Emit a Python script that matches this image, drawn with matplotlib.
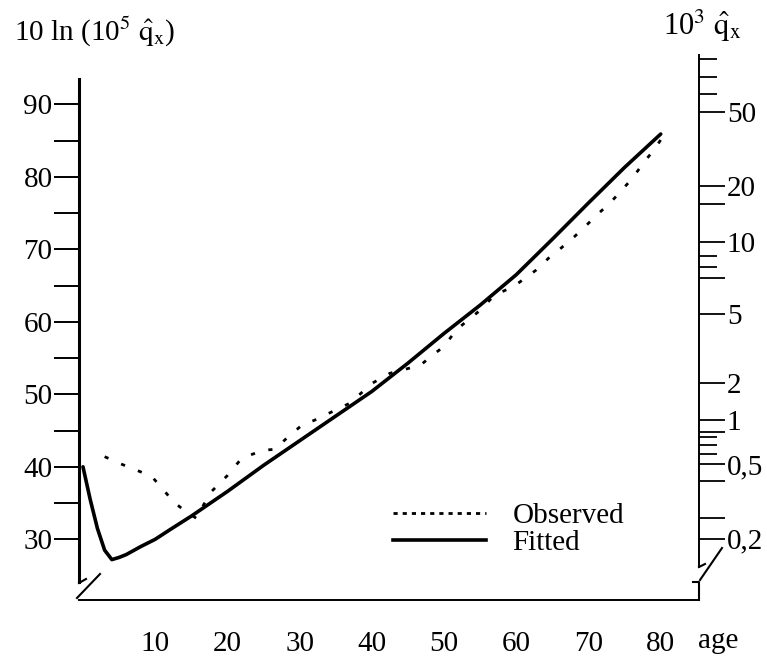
import numpy as np
import matplotlib
matplotlib.use("Agg")
import matplotlib.pyplot as plt
from matplotlib.lines import Line2D

plt.rcParams['font.family'] = ['Liberation Serif', 'DejaVu Serif']
plt.rcParams['mathtext.fontset'] = 'stix'

# datos
age_fit = [0, 1, 2, 3, 4, 5, 6, 8, 10, 12, 15, 20, 25, 30, 35, 40, 45, 50, 55, 60, 65, 70, 75, 80]
fitted = [40.0, 35.5, 31.5, 28.5, 27.2, 27.5, 27.9, 29.0, 30.0, 31.3, 33.2, 36.6, 40.2, 43.6,
          47.0, 50.4, 54.3, 58.4, 62.3, 66.5, 71.4, 76.4, 81.3, 85.9]

age_obs = [3, 5, 7, 9.5, 11.5, 12.5, 14, 15.7, 17.6, 20, 22, 25, 26.5, 28.5, 30.5, 32, 34.5, 37,
           40, 42.5, 46.7, 48.8, 50, 51.7, 55, 57, 59.5, 60.5, 62.7, 64.7, 66, 68, 70, 71, 73,
           75, 76, 77.6, 79.2, 80]
observed = [41.4, 40.5, 39.7, 38.7, 36.4, 35.2, 34.0, 32.9, 36.4, 38.8, 41.2, 42.3, 42.4, 44.2,
            45.9, 46.4, 47.6, 48.8, 51.5, 52.9, 54.0, 55.7, 56.6, 58.9, 61.6, 63.7, 64.8, 65.5,
            67.1, 69.0, 70.0, 71.7, 73.6, 74.6, 76.4, 78.6, 79.7, 81.9, 83.9, 85.1]

left_ticks = [30, 35, 40, 45, 50, 55, 60, 65, 70, 75, 80, 85, 90]
x_ticks = [10, 20, 30, 40, 50, 60, 70, 80]

# eje derecho (10^3 q_x), posiciones en unidades del eje izquierdo
right_major = [89.0, 78.8, 71.05, 61.1, 51.5, 46.4, 40.4, 30.1, 76.3, 66.1, 44.8, 38.1, 32.9]
right_labels = ['50', '20', '10', '5', '2', '1', '0,5', '0,2', '', '', '', '', '']
right_minor = [96.25, 93.8, 91.4, 69.1, 67.5, 44.1, 43.0, 41.8]

fig = plt.figure(figsize=(7.67, 6.57), dpi=100)
ax = fig.add_axes([79/767, 57/657, 620/767, 545/657])
ax.set_xlim(-0.55, 85.3)
ax.set_ylim(21.63, 96.8)

ax.plot(age_fit, fitted, color='black', lw=2.6, solid_capstyle='round', solid_joinstyle='round')
ax.plot(age_obs, observed, color='black', lw=2.0, linestyle=(0, (1.5, 5)))

for s in ['top', 'right']:
    ax.spines[s].set_visible(False)
ax.spines['left'].set_linewidth(2.2)
ax.spines['left'].set_bounds(24.1, 93.5)
ax.spines['bottom'].set_linewidth(1.4)

ax.set_yticks(left_ticks)
ax.set_yticklabels([str(v) if v % 10 == 0 else '' for v in left_ticks])
ax.tick_params(axis='y', length=18, width=1.4, pad=1, labelsize=21)
ax.set_xticks(x_ticks)
ax.set_xticklabels([str(v) for v in x_ticks])
ax.tick_params(axis='x', length=0, pad=22, labelsize=21)

ax2 = ax.twinx()
ax2.set_ylim(ax.get_ylim())
for s in ['top', 'left', 'bottom']:
    ax2.spines[s].set_visible(False)
ax2.spines['right'].set_linewidth(1.4)
ax2.spines['right'].set_bounds(26.2, 96.8)
ax2.set_yticks(right_major)
ax2.set_yticklabels(right_labels)
ax2.set_yticks(right_minor, minor=True)
ax2.tick_params(axis='y', which='major', length=19, width=1.3, pad=1, labelsize=21)
ax2.tick_params(axis='y', which='minor', length=13, width=1.3)

# marcas de corte en los ejes
def seg(px, py, lw=1.5):
    fx = [(p - 79) / 620 for p in px]
    fy = [(600 - p) / 545 for p in py]
    ax.plot(fx, fy, transform=ax.transAxes, color='black', lw=lw, clip_on=False)

seg([79, 86], [583, 579])
seg([77, 100], [598, 574])
seg([699, 705], [567, 564])
seg([700, 722], [580, 548])
seg([693, 699, 699], [582, 582, 600])

ax.text((718 - 79) / 620, -41 / 545, 'age', transform=ax.transAxes, fontsize=21,
        ha='center', va='center')

fig.text(14/767, 1 - 41/657, r'10 ln (10$^{5}$ $\hat{\mathrm{q}}_{\mathrm{x}}$)', fontsize=21,
         ha='left', va='baseline')
fig.text(663/767, 1 - 35/657, r'10$^{3}$ $\hat{\mathrm{q}}_{\mathrm{x}}$', fontsize=22,
         ha='left', va='baseline')

h_obs = Line2D([], [], color='black', lw=2.0, linestyle=(0, (1.5, 1.8)))
h_fit = Line2D([], [], color='black', lw=2.6)
ax.legend([h_obs, h_fit], ['Observed', 'Fitted'], loc='upper left',
          bbox_to_anchor=((393 - 79) / 620, (600 - 503) / 545), frameon=False,
          fontsize=21, handlelength=3.2, handletextpad=0.9, labelspacing=0.0,
          borderpad=0, borderaxespad=0)

fig.savefig('out.png', dpi=100)
